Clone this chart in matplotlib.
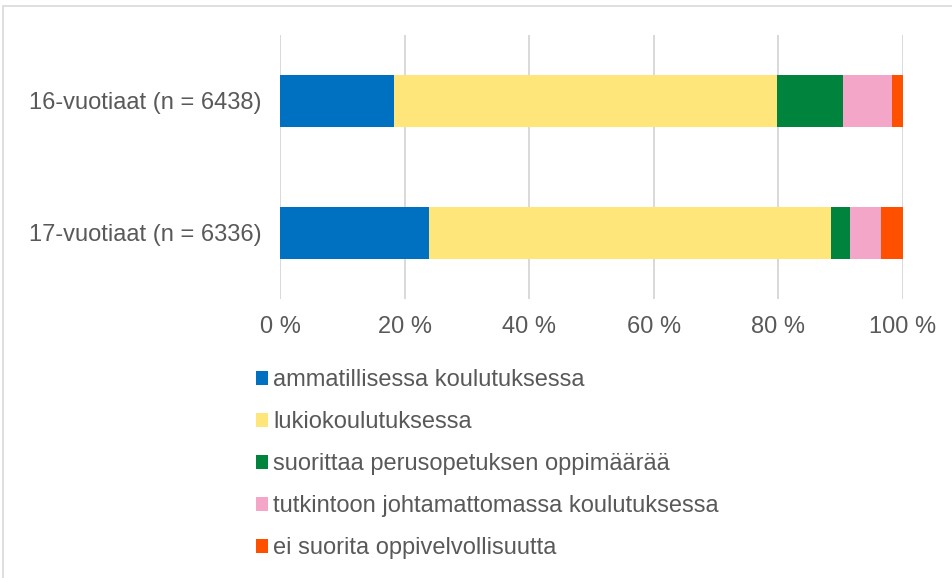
import matplotlib.pyplot as plt
from matplotlib.patches import Patch, Rectangle
import numpy as np

plt.rcParams['font.family'] = ['Liberation Sans', 'DejaVu Sans']

groups = ['16-vuotiaat (n = 6438)', '17-vuotiaat (n = 6336)']
series = ['ammatillisessa koulutuksessa', 'lukiokoulutuksessa',
          'suorittaa perusopetuksen oppimäärää',
          'tutkintoon johtamattomassa koulutuksessa',
          'ei suorita oppivelvollisuutta']
ammatillinen = [18.3, 23.9]
lukio = [61.5, 64.6]
perusopetus = [10.6, 3.0]
tutkintoon_johtamaton = [7.8, 5.0]
ei_suorita = [1.8, 3.5]
values = [ammatillinen, lukio, perusopetus, tutkintoon_johtamaton, ei_suorita]
colors = ['#0070C0', '#FFE67A', '#00843D', '#F4A6C8', '#FF5000']
text_col = '#595959'

fig = plt.figure(figsize=(9.52, 5.78), dpi=100)
fig.patches.append(Rectangle((3 / 952, -0.1), 1.2, 1 - 6 / 578 + 0.1,
                             transform=fig.transFigure, fill=False,
                             edgecolor='#D9D9D9', linewidth=1.2))
ax = fig.add_axes([280 / 952, 1 - 299 / 578, 623 / 952, 264 / 578])

y = np.arange(len(groups))
left = np.zeros(len(groups))
for vals, col, name in zip(values, colors, series):
    ax.barh(y, vals, left=left, height=0.4, color=col, label=name, zorder=3)
    left += np.array(vals)

ax.set_ylim(1.5, -0.5)
ax.set_xlim(0, 100)
ax.set_yticks(y)
ax.set_yticklabels(groups, fontsize=17, color=text_col)
ax.set_xticks(range(0, 101, 20))
ax.set_xticklabels([f'{v} %' for v in range(0, 101, 20)], fontsize=17, color=text_col)
ax.tick_params(length=0)
ax.tick_params(axis='y', pad=13)
ax.tick_params(axis='x', pad=12)
ax.grid(axis='x', color='#D9D9D9', linewidth=1.4, zorder=0)
for s in ax.spines.values():
    s.set_visible(False)

handles = [Patch(facecolor=c, edgecolor='none') for c in colors]
fig.legend(handles, series, loc='upper left', bbox_to_anchor=(256 / 952, 1 - 369 / 578),
           frameon=False, fontsize=17, labelcolor=text_col, handlelength=0.52,
           handleheight=0.52, handletextpad=0.22, labelspacing=0.85, borderaxespad=0,
           borderpad=0)

fig.savefig('out.png', dpi=100)
